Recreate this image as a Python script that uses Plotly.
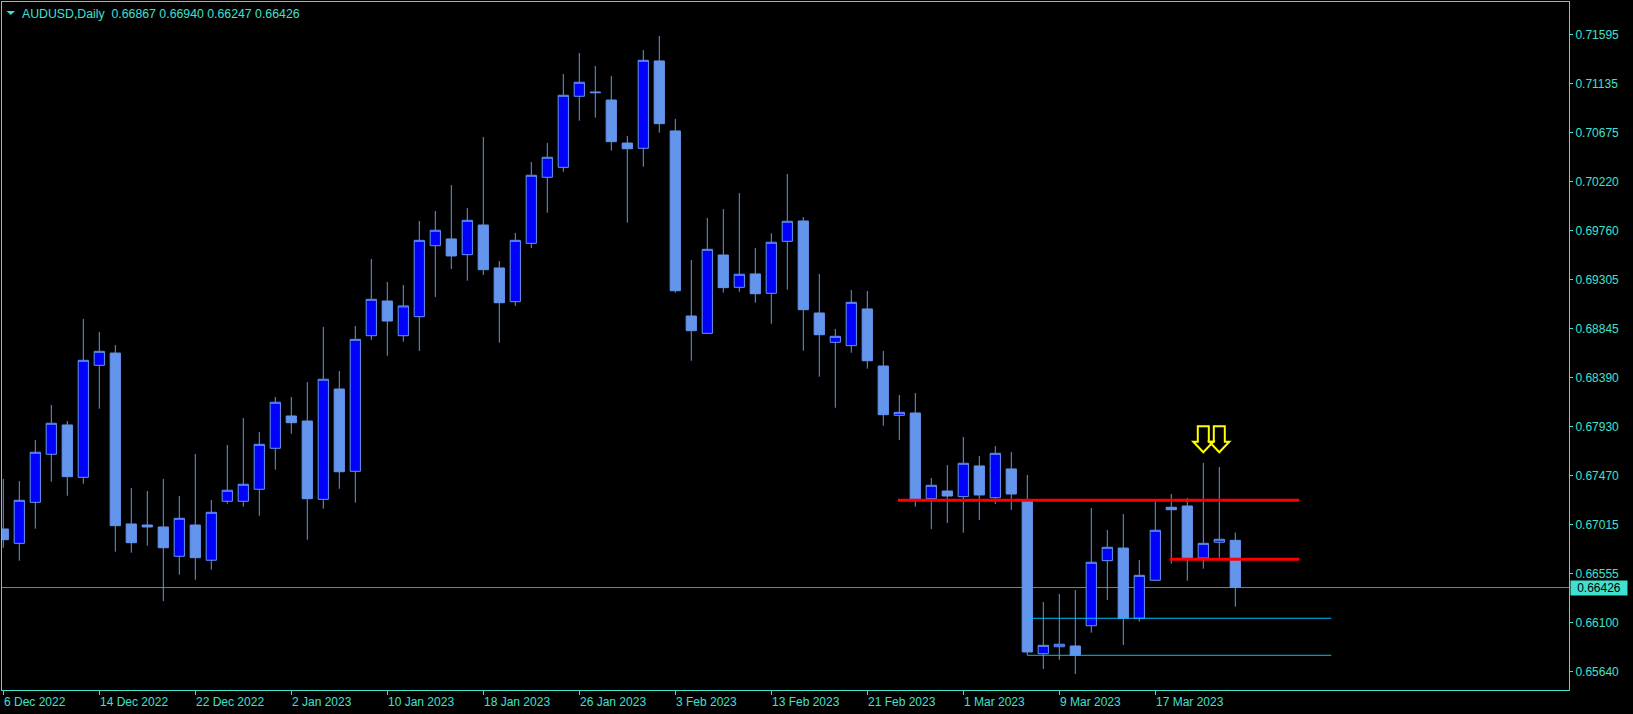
import plotly.graph_objects as go

# ---------------- data ----------------
symbol_title = "AUDUSD,Daily"

opens = [0.66973, 0.66839, 0.67222, 0.67671, 0.67945, 0.67456, 0.68502, 0.68617, 0.67020, 0.67010,
         0.66992, 0.66718, 0.67010, 0.66681, 0.67232, 0.67232, 0.67344, 0.67727, 0.68029, 0.67982,
         0.67250, 0.68281, 0.67512, 0.68779, 0.69103, 0.68779, 0.68957, 0.69620, 0.69683, 0.69536,
         0.69813, 0.69412, 0.69097, 0.69642, 0.70259, 0.70352, 0.71016, 0.71056, 0.70981, 0.70579,
         0.70530, 0.71346, 0.70692, 0.68963, 0.68801, 0.69533, 0.69231, 0.69356, 0.69175, 0.69661,
         0.69851, 0.68991, 0.68717, 0.68686, 0.69029, 0.68496, 0.68035, 0.68057, 0.67256, 0.67328,
         0.67275, 0.67562, 0.67265, 0.67534, 0.67239, 0.65808, 0.65873, 0.65880, 0.66069, 0.66677,
         0.66795, 0.66139, 0.66494, 0.67176, 0.67188, 0.66702, 0.66849, 0.66867]
highs = [0.67440, 0.67421, 0.67805, 0.68132, 0.67982, 0.68935, 0.68814, 0.68692, 0.67356, 0.67328,
         0.67440, 0.67281, 0.67674, 0.67244, 0.67758, 0.68010, 0.67879, 0.68206, 0.68206, 0.68346,
         0.68860, 0.68449, 0.68870, 0.69496, 0.69281, 0.69253, 0.69851, 0.69944, 0.70187, 0.69972,
         0.70636, 0.69477, 0.69739, 0.70402, 0.70579, 0.71224, 0.71420, 0.71299, 0.71205, 0.70645,
         0.71448, 0.71579, 0.70804, 0.69486, 0.69879, 0.69963, 0.70112, 0.69598, 0.69736, 0.70290,
         0.69888, 0.69356, 0.68842, 0.69206, 0.69197, 0.68636, 0.68225, 0.68244, 0.67450, 0.67571,
         0.67833, 0.67655, 0.67748, 0.67692, 0.67478, 0.66291, 0.66366, 0.66403, 0.67169, 0.66964,
         0.67113, 0.66683, 0.67239, 0.67300, 0.67263, 0.67590, 0.67552, 0.66940]
lows = [0.66798, 0.66677, 0.66976, 0.67415, 0.67284, 0.67396, 0.68097, 0.66761, 0.66752, 0.66817,
        0.66300, 0.66546, 0.66499, 0.66593, 0.67209, 0.67181, 0.67097, 0.67527, 0.67863, 0.66873,
        0.67163, 0.67349, 0.67219, 0.68739, 0.68592, 0.68723, 0.68636, 0.69141, 0.69402, 0.69293,
        0.69346, 0.68714, 0.69057, 0.69598, 0.69928, 0.70311, 0.70788, 0.70816, 0.70508, 0.69835,
        0.70358, 0.70676, 0.69181, 0.68545, 0.68795, 0.69181, 0.69190, 0.69087, 0.68891, 0.69209,
        0.68639, 0.68396, 0.68106, 0.68620, 0.68471, 0.67938, 0.67805, 0.67181, 0.66973, 0.67029,
        0.66938, 0.67057, 0.67207, 0.67151, 0.65793, 0.65665, 0.65752, 0.65618, 0.66004, 0.66310,
        0.65889, 0.66107, 0.66490, 0.66649, 0.66490, 0.66602, 0.66705, 0.66247]
closes = [0.66873, 0.67241, 0.67690, 0.67961, 0.67462, 0.68549, 0.68633, 0.67004, 0.66845, 0.66992,
          0.66798, 0.67073, 0.66705, 0.67129, 0.67335, 0.67391, 0.67764, 0.68157, 0.67966, 0.67256,
          0.68372, 0.67508, 0.68745, 0.69119, 0.68916, 0.69057, 0.69670, 0.69764, 0.69524, 0.69857,
          0.69396, 0.69087, 0.69670, 0.70278, 0.70446, 0.71025, 0.71147, 0.71050, 0.70592, 0.70526,
          0.71352, 0.70760, 0.69199, 0.68826, 0.69586, 0.69228, 0.69353, 0.69171, 0.69652, 0.69848,
          0.69022, 0.68788, 0.68773, 0.69091, 0.68545, 0.68041, 0.68063, 0.67253, 0.67381, 0.67281,
          0.67587, 0.67291, 0.67680, 0.67300, 0.65824, 0.65886, 0.65896, 0.65793, 0.66662, 0.66802,
          0.66139, 0.66540, 0.66961, 0.67153, 0.66705, 0.66839, 0.66877, 0.66426]

date_tick_bars = [0, 6, 12, 18, 24, 30, 36, 42, 48, 54, 60, 66, 72]
date_tick_labels = ["6 Dec 2022", "14 Dec 2022", "22 Dec 2022", "2 Jan 2023", "10 Jan 2023",
                    "18 Jan 2023", "26 Jan 2023", "3 Feb 2023", "13 Feb 2023", "21 Feb 2023",
                    "1 Mar 2023", "9 Mar 2023", "17 Mar 2023"]

price_ticks = [0.71595, 0.71135, 0.70675, 0.70220, 0.69760, 0.69305, 0.68845,
               0.68390, 0.67930, 0.67470, 0.67015, 0.66555, 0.66100, 0.65640]

# horizontal objects drawn on the chart
red_levels = [0.67242, 0.66690]
red_start_bar = [55.92, 72.9]
red_end_bar = [81.0, 81.0]
blue_levels = [0.66139, 0.65793]
blue_start_bar = [64.0, 64.0]
blue_end_bar = [83.0, 83.0]
arrow_bars = [75, 76]
arrow_tip_price = [0.67690, 0.67690]

# ---------------- styling ----------------
TURQ = "#40E0D0"
BULL_FILL = "#0000FF"
BEAR_FILL = "#6495ED"
WICK = "#6495ED"
FONT = "Liberation Sans"

W, H = 1633, 714
ML, MR, MT, MB = 2, 64, 2, 24

bars = list(range(len(opens)))
last_close = closes[-1]

fig = go.Figure()
fig.add_trace(go.Candlestick(
    x=bars, open=opens, high=highs, low=lows, close=closes,
    increasing=dict(fillcolor=BULL_FILL, line=dict(color=WICK, width=1)),
    decreasing=dict(fillcolor=BEAR_FILL, line=dict(color=WICK, width=1)),
    whiskerwidth=0, hoverinfo="skip", showlegend=False,
))

shapes = []
# bid line
shapes.append(dict(type="line", xref="paper", x0=0, x1=1, yref="y", y0=last_close, y1=last_close,
                   line=dict(color="#808080", width=1), layer="below"))
for lv, a, b in zip(red_levels, red_start_bar, red_end_bar):
    shapes.append(dict(type="line", xref="x", yref="y", x0=a, x1=b, y0=lv, y1=lv,
                       line=dict(color="#FF0000", width=3), layer="above"))
for lv, a, b in zip(blue_levels, blue_start_bar, blue_end_bar):
    shapes.append(dict(type="line", xref="x", yref="y", x0=a, x1=b, y0=lv, y1=lv,
                       line=dict(color="#00BFFF", width=1), layer="above"))
# down arrows (pixel-sized, anchored at tip)
arrow_path = "M 0,0 L -10,10.5 L -5.5,10.5 L -5.5,26 L 5.5,26 L 5.5,10.5 L 10,10.5 Z"
for xb, yp in zip(arrow_bars, arrow_tip_price):
    shapes.append(dict(type="path", xref="x", yref="y", xsizemode="pixel", ysizemode="pixel",
                       xanchor=xb, yanchor=yp, path=arrow_path,
                       line=dict(color="#FFFF00", width=2), fillcolor="rgba(0,0,0,0)", layer="above"))
# small triangle in title
shapes.append(dict(type="path", xref="paper", yref="paper", xsizemode="pixel", ysizemode="pixel",
                   xanchor=0, yanchor=1, path="M 4.5,-9 L 13,-9 L 8.75,-13 Z",
                   fillcolor=TURQ, line=dict(color=TURQ, width=0)))

annotations = []
for xb, lab in zip(date_tick_bars, date_tick_labels):
    annotations.append(dict(x=xb, xref="x", y=0, yref="paper", text=lab, showarrow=False,
                            xanchor="left", yanchor="top", xshift=-1, yshift=-3,
                            font=dict(family=FONT, size=12, color=TURQ)))
title_txt = "%s\u00a0\u00a0%.5f %.5f %.5f %.5f" % (symbol_title, opens[-1], highs[-1], lows[-1], closes[-1])
annotations.append(dict(x=0, xref="paper", y=1, yref="paper", text=title_txt, showarrow=False,
                        xanchor="left", yanchor="top", xshift=18, yshift=-3,
                        font=dict(family=FONT, size=12.3, color=TURQ)))
annotations.append(dict(x=1, xref="paper", y=last_close, yref="y", text="%.5f" % last_close,
                        showarrow=False, xanchor="left", yanchor="middle", xshift=1,
                        bgcolor=TURQ, width=54, height=12, borderpad=1,
                        font=dict(family=FONT, size=12, color="#000000")))

plot_h = H - MT - MB
px_per_unit = 10703.0
y_top = 0.71595 + (34.3 - 2) / px_per_unit
y_bot = y_top - plot_h / px_per_unit
x_left = -0.081
x_right = x_left + (W - ML - MR) / 16.0

fig.update_layout(
    width=W, height=H, autosize=False,
    margin=dict(l=ML, r=MR, t=MT, b=MB, pad=0),
    paper_bgcolor="#000000", plot_bgcolor="#000000",
    font=dict(family=FONT, size=12, color=TURQ),
    shapes=shapes, annotations=annotations,
    boxgap=0.36, boxgroupgap=0,
    hovermode=False,
    xaxis=dict(range=[x_left, x_right], rangeslider=dict(visible=False), showgrid=False,
               zeroline=False, showline=True, linecolor=TURQ, linewidth=1, mirror=True,
               ticks="outside", ticklen=4, tickcolor=TURQ, tickwidth=1,
               tickmode="array", tickvals=date_tick_bars, showticklabels=False),
    yaxis=dict(range=[y_bot, y_top], side="right", showgrid=False, zeroline=False,
               showline=True, linecolor=TURQ, linewidth=1, mirror=True,
               ticks="outside", ticklen=3, tickcolor=TURQ, tickwidth=1,
               tickmode="array", tickvals=price_ticks,
               ticktext=["%.5f" % v for v in price_ticks],
               tickfont=dict(family=FONT, size=12, color=TURQ)),
)

fig.write_html("out.html", config={"displayModeBar": False, "staticPlot": True},
               post_script="document.body.style.margin='0';document.body.style.overflow='hidden';")
